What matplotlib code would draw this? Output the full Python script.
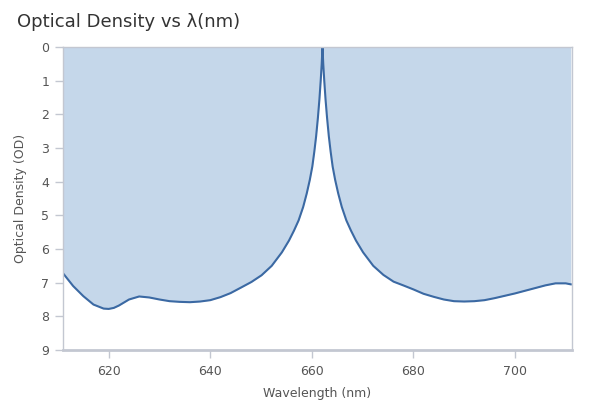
import matplotlib
matplotlib.use("Agg")
import matplotlib.pyplot as plt

# wavelength (nm) and optical density
wavelength = [611.0, 613, 615, 617, 619, 620, 621, 622, 624, 626, 628, 630, 632,
              634, 636, 638, 640, 642, 644, 646, 648.1, 650.1, 652.1, 654.1,
              655.5, 656.5, 657.4, 658.3, 659.0, 659.6, 660.1, 660.5, 660.85,
              661.2, 661.5, 661.75, 661.95, 662.1, 662.25, 662.45, 662.7, 663.0,
              663.35, 663.7, 664.1, 664.6, 665.2, 665.9, 666.8, 667.7, 668.7,
              670.1, 672.1, 674.1, 676.1, 678, 680, 682, 684, 686, 688, 690,
              692, 694, 696, 698, 700, 702, 704, 706, 708, 710, 711]
density = [6.72, 7.1, 7.4, 7.65, 7.77, 7.78, 7.75, 7.68, 7.5, 7.41, 7.44, 7.5,
           7.55, 7.57, 7.58, 7.56, 7.52, 7.43, 7.31, 7.15, 6.98, 6.78, 6.5,
           6.1, 5.75, 5.45, 5.15, 4.75, 4.35, 3.95, 3.55, 3.1, 2.65, 2.1, 1.55,
           1.0, 0.5, 0.0, 0.5, 1.0, 1.55, 2.1, 2.65, 3.1, 3.55, 3.95, 4.35,
           4.75, 5.15, 5.45, 5.75, 6.1, 6.5, 6.77, 6.97, 7.08, 7.2, 7.33, 7.42,
           7.5, 7.55, 7.56, 7.55, 7.52, 7.46, 7.39, 7.32, 7.24, 7.16, 7.08,
           7.02, 7.02, 7.05]

x_ticks = [620, 640, 660, 680, 700]
y_ticks = list(range(10))

line_color = "#3b69a3"
fill_color = "#c5d7ea"
axis_color = "#c3c7d1"
text_color = "#555555"

fig = plt.figure(figsize=(6, 4), dpi=100)
ax = fig.add_axes([0.105, 0.125, 0.848, 0.7575])

ax.fill_between(wavelength, 0, density, color=fill_color, linewidth=0)
ax.plot(wavelength, density, color=line_color, linewidth=1.5,
        solid_joinstyle="round")

ax.set_xlim(611, 711.2)
ax.set_ylim(9, 0)
ax.set_xticks(x_ticks)
ax.set_yticks(y_ticks)

for side in ["left", "right", "top"]:
    ax.spines[side].set_color(axis_color)
    ax.spines[side].set_linewidth(1.0)
ax.spines["bottom"].set_color(axis_color)
ax.spines["bottom"].set_linewidth(2.0)

ax.tick_params(axis="y", length=6, width=1, color=axis_color,
               labelcolor=text_color, labelsize=9, pad=4)
ax.tick_params(axis="x", length=6, width=1, color=axis_color,
               labelcolor=text_color, labelsize=9, pad=5)

ax.set_xlabel("Wavelength (nm)", color=text_color, fontsize=9, labelpad=6)
ax.set_ylabel("Optical Density (OD)", color=text_color, fontsize=9, labelpad=10)

fig.text(0.028, 0.945, "Optical Density vs λ(nm)", fontsize=13,
         color="#333333", ha="left", va="center")

fig.savefig("out.png", dpi=100)
